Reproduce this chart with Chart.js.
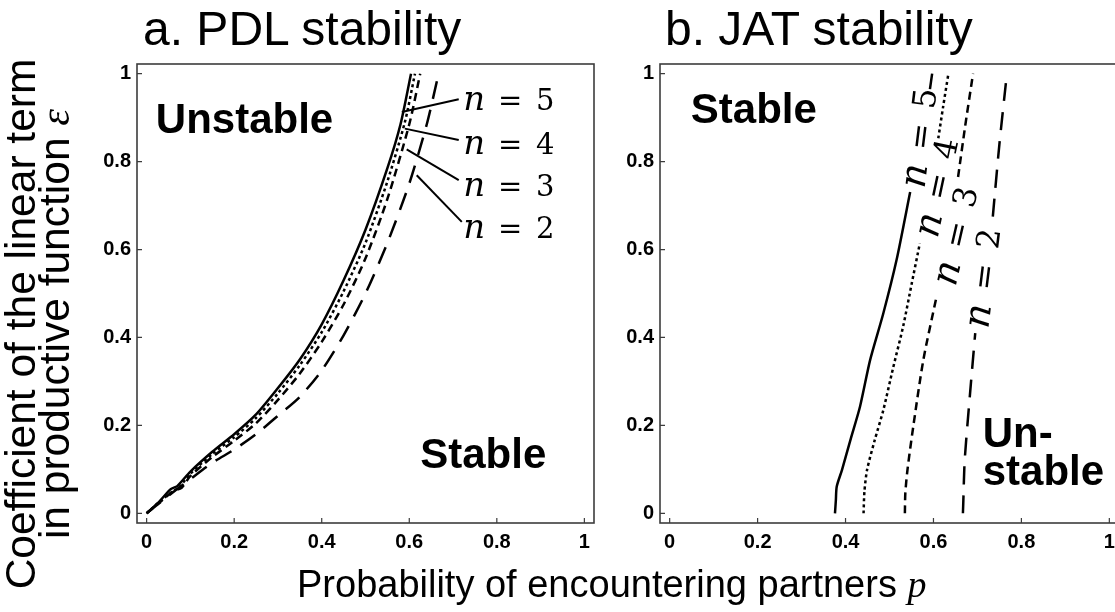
<!DOCTYPE html>
<html>
<head>
<meta charset="utf-8">
<script src="https://cdn.jsdelivr.net/npm/chart.js@4.4.0/dist/chart.umd.min.js"></script>
<style>
    html, body { margin: 0; padding: 0; background: #fff; overflow: hidden; }
    #wrap { position: relative; width: 1115px; height: 612px; overflow: hidden; background: #fff; }
    #wrap canvas { position: absolute; top: 0; }
    .txt { position: absolute; font-family: "Liberation Sans", Arial, sans-serif; color: #000; white-space: nowrap; line-height: 1; }
    .math { font-family: "Liberation Serif", "DejaVu Serif", serif; font-style: italic; }
    #ytitle { left: -312px; top: 290px; width: 700px; font-size: 42.5px; line-height: 34px; text-align: center; transform: rotate(-90deg); }
</style>
</head>
<body>
<div id="wrap">
    <canvas id="pdlChart" width="600" height="612" style="left:0px"></canvas>
    <canvas id="jatChart" width="600" height="612" style="left:560px"></canvas>
    <div class="txt" style="left:143px; top:5px; font-size:48px;">a. PDL stability</div>
    <div class="txt" style="left:665px; top:5px; font-size:48px;">b. JAT stability</div>
    <div class="txt" style="left:297px; top:565px; font-size:38px;">Probability of encountering partners <span class="math">p</span></div>
    <div class="txt" id="ytitle">Coefficient of the linear term<br>in productive function <span class="math">ε</span></div>
</div>

<script>
// axis ticks (both panels)
const tickVals = [0, 0.2, 0.4, 0.6, 0.8, 1];
const tickText = ['0', '0.2', '0.4', '0.6', '0.8', '1'];

// a. PDL stability boundary, p -> epsilon, one pair per n
const pdlP5 = [0, 0.03, 0.055, 0.07, 0.1, 0.15, 0.2, 0.25, 0.3, 0.35, 0.4, 0.45, 0.5, 0.55, 0.58, 0.604];
const pdlE5 = [0, 0.028, 0.055, 0.062, 0.095, 0.14, 0.18, 0.225, 0.285, 0.35, 0.43, 0.53, 0.645, 0.785, 0.885, 1.0];
const pdlP4 = [0, 0.03, 0.06, 0.075, 0.1, 0.15, 0.2, 0.25, 0.3, 0.35, 0.4, 0.45, 0.5, 0.55, 0.59, 0.613];
const pdlE4 = [0, 0.027, 0.05, 0.06, 0.09, 0.135, 0.173, 0.217, 0.273, 0.337, 0.412, 0.505, 0.615, 0.755, 0.89, 1.0];
const pdlP3 = [0, 0.03, 0.06, 0.08, 0.1, 0.15, 0.2, 0.25, 0.3, 0.35, 0.4, 0.45, 0.5, 0.55, 0.6, 0.625];
const pdlE3 = [0, 0.025, 0.05, 0.058, 0.085, 0.128, 0.165, 0.205, 0.258, 0.318, 0.39, 0.475, 0.58, 0.715, 0.885, 1.0];
const pdlP2 = [0, 0.05, 0.1, 0.15, 0.2, 0.25, 0.3, 0.35, 0.4, 0.45, 0.5, 0.55, 0.6, 0.64, 0.667];
const pdlE2 = [0, 0.04, 0.078, 0.115, 0.145, 0.18, 0.222, 0.265, 0.325, 0.405, 0.5, 0.615, 0.75, 0.885, 1.0];

// b. JAT stability boundary, lower piece (a) and upper piece (b) - the label sits in the gap
const jatP5a = [0.376, 0.378, 0.380, 0.392, 0.412, 0.433, 0.456, 0.486, 0.516, 0.547];
const jatE5a = [0, 0.03, 0.061, 0.099, 0.17, 0.243, 0.349, 0.455, 0.576, 0.731];
const jatP5b = [0.592, 0.597];
const jatE5b = [0.965, 1.0];
const jatP4a = [0.441, 0.443, 0.449, 0.466, 0.486, 0.508, 0.531, 0.55, 0.569];
const jatE4a = [0, 0.05, 0.099, 0.165, 0.235, 0.33, 0.425, 0.52, 0.614];
const jatP4b = [0.611, 0.622, 0.634];
const jatE4b = [0.853, 0.925, 1.0];
const jatP3a = [0.535, 0.536, 0.541, 0.554, 0.577, 0.607];
const jatE3a = [0, 0.046, 0.1, 0.197, 0.349, 0.493];
const jatP3b = [0.656, 0.672, 0.69];
const jatE3b = [0.765, 0.88, 1.0];
const jatP2a = [0.667, 0.668, 0.671, 0.683, 0.695];
const jatE2a = [0, 0.03, 0.12, 0.27, 0.41];
const jatP2b = [0.735, 0.75, 0.767];
const jatE2b = [0.675, 0.84, 1.0];

const sans = '"Liberation Sans", Arial, sans-serif';
const dashFor = { 5: [], 4: [3, 3], 3: [8, 5], 2: [18, 11] };

function zip(ps, es) {
    return ps.map((p, i) => ({ x: p, y: es[i] }));
}

function curve(n, ps, es) {
    return {
        label: 'n = ' + n,
        data: zip(ps, es),
        borderColor: '#000',
        borderWidth: 2.5,
        borderDash: dashFor[n],
        pointRadius: 0,
        tension: 0.25,
        fill: false
    };
}

// "n = 5" style label, math font; k scales the whole label
function drawN(ctx, n, px, py, rot, centred, k) {
    ctx.save();
    ctx.translate(px, py);
    ctx.rotate(rot * Math.PI / 180);
    ctx.scale(k, k);
    ctx.fillStyle = '#000';
    ctx.textAlign = 'center';
    ctx.textBaseline = 'alphabetic';
    const off = centred ? -46.5 : 0;
    ctx.font = 'italic 34px "DejaVu Serif", serif';
    ctx.fillText('n', off + 11, 10);
    ctx.font = '29px "DejaVu Serif", serif';
    ctx.fillText('=', off + 47, 10);
    ctx.fillText(String(n), off + 82, 10);
    ctx.restore();
}

// frame, inward ticks, region words and n labels
const notesPlugin = {
    id: 'notes',
    afterDatasetsDraw(chart, args, opts) {
        const { ctx, chartArea: a, scales: { x, y } } = chart;
        ctx.save();
        ctx.setLineDash([]);
        ctx.strokeStyle = '#3c3c3c';
        ctx.lineWidth = 1.6;
        ctx.strokeRect(a.left, a.top, a.right - a.left, a.bottom - a.top);
        ctx.lineWidth = 1.2;
        ctx.beginPath();
        x.ticks.forEach(t => {
            const px = x.getPixelForValue(t.value);
            ctx.moveTo(px, a.bottom);
            ctx.lineTo(px, a.bottom - 5);
        });
        y.ticks.forEach(t => {
            const py = y.getPixelForValue(t.value);
            ctx.moveTo(a.left, py);
            ctx.lineTo(a.left + 5, py);
        });
        ctx.stroke();

        ctx.strokeStyle = '#000';
        ctx.lineWidth = 2;
        (opts.leaders || []).forEach(l => {
            ctx.beginPath();
            ctx.moveTo(x.getPixelForValue(l[0]), y.getPixelForValue(l[1]));
            ctx.lineTo(x.getPixelForValue(l[2]), y.getPixelForValue(l[3]));
            ctx.stroke();
        });

        ctx.fillStyle = '#000';
        ctx.font = 'bold 42px ' + sans;
        ctx.textAlign = 'left';
        ctx.textBaseline = 'alphabetic';
        (opts.words || []).forEach(w => {
            ctx.fillText(w.text, x.getPixelForValue(w.p), y.getPixelForValue(w.e));
        });

        (opts.nLabels || []).forEach(l => {
            drawN(ctx, l.n, x.getPixelForValue(l.p), y.getPixelForValue(l.e), l.rot, l.centred, opts.labelScale || 1);
        });
        ctx.restore();
    }
};

function makeScales() {
    const tickFont = { family: sans, size: 20, weight: 'bold' };
    const setTicks = s => { s.ticks = tickVals.map(v => ({ value: v })); };
    return {
        x: {
            type: 'linear', min: -0.022, max: 1.022,
            afterBuildTicks: setTicks,
            afterFit: s => { s.height = 30; },
            grid: { display: false, drawTicks: false },
            border: { display: false },
            ticks: { padding: 7, color: '#000', font: tickFont, autoSkip: false, maxRotation: 0,
                     callback: (v, i) => tickText[i] }
        },
        y: {
            type: 'linear', min: -0.022, max: 1.022,
            afterBuildTicks: setTicks,
            afterFit: s => { s.width = 40; },
            grid: { display: false, drawTicks: false },
            border: { display: false },
            ticks: { padding: 6, color: '#000', font: tickFont, autoSkip: false,
                     callback: (v, i) => tickText[i] }
        }
    };
}

function baseOptions(padding, notes) {
    return {
        responsive: false,
        maintainAspectRatio: false,
        animation: false,
        layout: { padding: padding },
        scales: makeScales(),
        plugins: {
            legend: { display: false },
            tooltip: { enabled: false },
            notes: notes
        }
    };
}

document.addEventListener('DOMContentLoaded', function () {

    // a. PDL
    new Chart(document.getElementById('pdlChart'), {
        type: 'line',
        data: {
            datasets: [
                curve(5, pdlP5, pdlE5),
                curve(4, pdlP4, pdlE4),
                curve(3, pdlP3, pdlE3),
                curve(2, pdlP2, pdlE2)
            ]
        },
        options: baseOptions({ left: 97, right: 6, top: 64, bottom: 59 }, {
            words: [
                { text: 'Unstable', p: 0.021, e: 0.865 },
                { text: 'Stable', p: 0.625, e: 0.103 }
            ],
            leaders: [
                [0.583, 0.913, 0.713, 0.942],
                [0.590, 0.875, 0.713, 0.849],
                [0.594, 0.828, 0.713, 0.758],
                [0.617, 0.769, 0.720, 0.663]
            ],
            nLabels: [
                { n: 5, p: 0.723, e: 0.941, rot: 0 },
                { n: 4, p: 0.723, e: 0.841, rot: 0 },
                { n: 3, p: 0.723, e: 0.744, rot: 0 },
                { n: 2, p: 0.723, e: 0.648, rot: 0 }
            ]
        }),
        plugins: [notesPlugin]
    });

    // b. JAT
    new Chart(document.getElementById('jatChart'), {
        type: 'line',
        data: {
            datasets: [
                curve(5, jatP5a, jatE5a), curve(5, jatP5b, jatE5b),
                curve(4, jatP4a, jatE4a), curve(4, jatP4b, jatE4b),
                curve(3, jatP3a, jatE3a), curve(3, jatP3b, jatE3b),
                curve(2, jatP2a, jatE2a), curve(2, jatP2b, jatE2b)
            ]
        },
        options: baseOptions({ left: 60, right: 41, top: 64, bottom: 59 }, {
            words: [
                { text: 'Stable', p: 0.048, e: 0.887 },
                { text: 'Un-', p: 0.712, e: 0.151 },
                { text: 'stable', p: 0.712, e: 0.065 }
            ],
            labelScale: 1.1,
            nLabels: [
                { n: 5, p: 0.569, e: 0.856, rot: -83, centred: true },
                { n: 4, p: 0.609, e: 0.743, rot: -78, centred: true },
                { n: 3, p: 0.652, e: 0.633, rot: -77, centred: true },
                { n: 2, p: 0.714, e: 0.537, rot: -83, centred: true }
            ]
        }),
        plugins: [notesPlugin]
    });
});
</script>
</body>
</html>
